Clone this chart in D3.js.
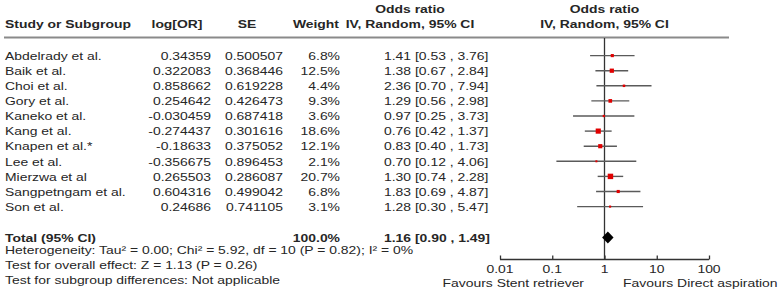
<!DOCTYPE html>
<html><head><meta charset="utf-8">
<script src="https://cdn.jsdelivr.net/npm/d3@7"></script>
<style>
body{margin:0;background:#fff;}
svg text{font-family:"Liberation Sans",Arial,sans-serif;fill:#262626;}
</style></head>
<body><svg id="c" width="783" height="289"></svg>
<script>
const studies = ["Abdelrady et al.","Baik et al.","Choi et al.","Gory et al.","Kaneko et al.","Kang et al.","Knapen et al.*","Lee et al.","Mierzwa et al","Sangpetngam et al.","Son et al."];
const logOR = ["0.34359","0.322083","0.858662","0.254642","-0.030459","-0.274437","-0.18633","-0.356675","0.265503","0.604316","0.24686"];
const se = ["0.500507","0.368446","0.619228","0.426473","0.687418","0.301616","0.375052","0.896453","0.286087","0.499042","0.741105"];
const weight = [6.8,12.5,4.4,9.3,3.6,18.6,12.1,2.1,20.7,6.8,3.1];
const orVal = [1.41,1.38,2.36,1.29,0.97,0.76,0.83,0.70,1.30,1.83,1.28];
const ciLow = [0.53,0.67,0.70,0.56,0.25,0.42,0.40,0.12,0.74,0.69,0.30];
const ciHigh = [3.76,2.84,7.94,2.98,3.73,1.37,1.73,4.06,2.28,4.87,5.47];
const total = {or:1.16, lo:0.90, hi:1.49, weight:"100.0%"};
const axisTicks = [0.01,0.1,1,10,100];
const tickLabels = ["0.01","0.1","1","10","100"];
const footer = ["Heterogeneity: Tau\u00B2 = 0.00; Chi\u00B2 = 5.92, df = 10 (P = 0.82); I\u00B2 = 0%","Test for overall effect: Z = 1.13 (P = 0.26)","Test for subgroup differences: Not applicable"];
const favours = ["Favours Stent retriever","Favours Direct aspiration"];

const svg = d3.select("#c");
const fs = "11.8px";
const sx = 1.18;
const x = d3.scaleLog().domain([0.01,100]).range([500,709]);
const y = d3.scaleLinear().domain([0,1]).range([55.6,70.7]);
const f2 = d3.format(".2f");

function txt(xp, yp, s, anchor, bold){
  return svg.append("text").attr("transform",`translate(${xp},${yp}) scale(${sx},1)`)
    .attr("dy","0.36em")
    .attr("text-anchor",anchor||"start").style("font-size",fs)
    .style("font-weight",bold?"bold":"normal").text(s);
}
// headers
txt(410,8.5,"Odds ratio","middle",true);
txt(604.5,8.5,"Odds ratio","middle",true);
txt(5,24,"Study or Subgroup","start",true);
txt(177,24,"log[OR]","middle",true);
txt(247,24,"SE","middle",true);
txt(339,24,"Weight","end",true);
txt(410,24,"IV, Random, 95% CI","middle",true);
txt(604.5,24,"IV, Random, 95% CI","middle",true);

svg.append("line").attr("x1",4).attr("x2",729).attr("y1",37.5).attr("y2",37.5)
  .attr("stroke","#8a8a8a").attr("stroke-width",2);

// rows
studies.forEach((s,i)=>{
  const yy = y(i);
  txt(5,yy,s);
  txt(211,yy,logOR[i],"end");
  txt(283,yy,se[i],"end");
  txt(340,yy,weight[i].toFixed(1)+"%","end");
  txt(384,yy,f2(orVal[i])+" ["+f2(ciLow[i])+" , "+f2(ciHigh[i])+"]","start");
});

// vertical line of no effect
svg.append("line").attr("x1",x(1)).attr("x2",x(1)).attr("y1",38).attr("y2",259.5)
  .attr("stroke","#333").attr("stroke-width",1.3);

// CI lines and squares
const g = svg.append("g");
g.selectAll("line.ci").data(studies).join("line").attr("class","ci")
  .attr("x1",(d,i)=>x(ciLow[i])).attr("x2",(d,i)=>x(ciHigh[i]))
  .attr("y1",(d,i)=>y(i)).attr("y2",(d,i)=>y(i))
  .attr("stroke","#5a5a5a").attr("stroke-width",1.4);
g.selectAll("rect.sq").data(studies).join("rect").attr("class","sq")
  .each(function(d,i){
    const side = Math.max(2, 1.2*Math.sqrt(weight[i]));
    d3.select(this).attr("x",x(orVal[i])-side/2).attr("y",y(i)-side/2)
      .attr("width",side).attr("height",side);
  }).attr("fill","#e00000");

// total row
const ty = 237.5;
txt(5,ty,"Total (95% CI)","start",true);
txt(340,ty,total.weight,"end",true);
txt(384,ty,f2(total.or)+" ["+f2(total.lo)+" , "+f2(total.hi)+"]","start",true);
const dh = 6;
svg.append("path").attr("d",`M${x(total.lo)},${ty} L${x(total.or)},${ty-dh} L${x(total.hi)},${ty} L${x(total.or)},${ty+dh} Z`)
  .attr("fill","#000");

// footer
footer.forEach((s,i)=>txt(5,250+i*14.7,s));

// axis
const ay = 259.5;
const axis = d3.axisTop(x).tickValues(axisTicks).tickSize(4).tickFormat("");
const ag = svg.append("g").attr("transform",`translate(0,${ay})`).call(axis);
ag.select(".domain").attr("stroke","#333").attr("stroke-width",1.3).attr("d",`M${x(0.01)},0H${x(100)}`);
ag.selectAll(".tick line").attr("stroke","#333").attr("stroke-width",1.3);
axisTicks.forEach((t,i)=>txt(x(t),268.4,tickLabels[i],"middle"));
txt(584,282.4,favours[0],"end");
txt(623,282.4,favours[1],"start");
</script></body></html>
